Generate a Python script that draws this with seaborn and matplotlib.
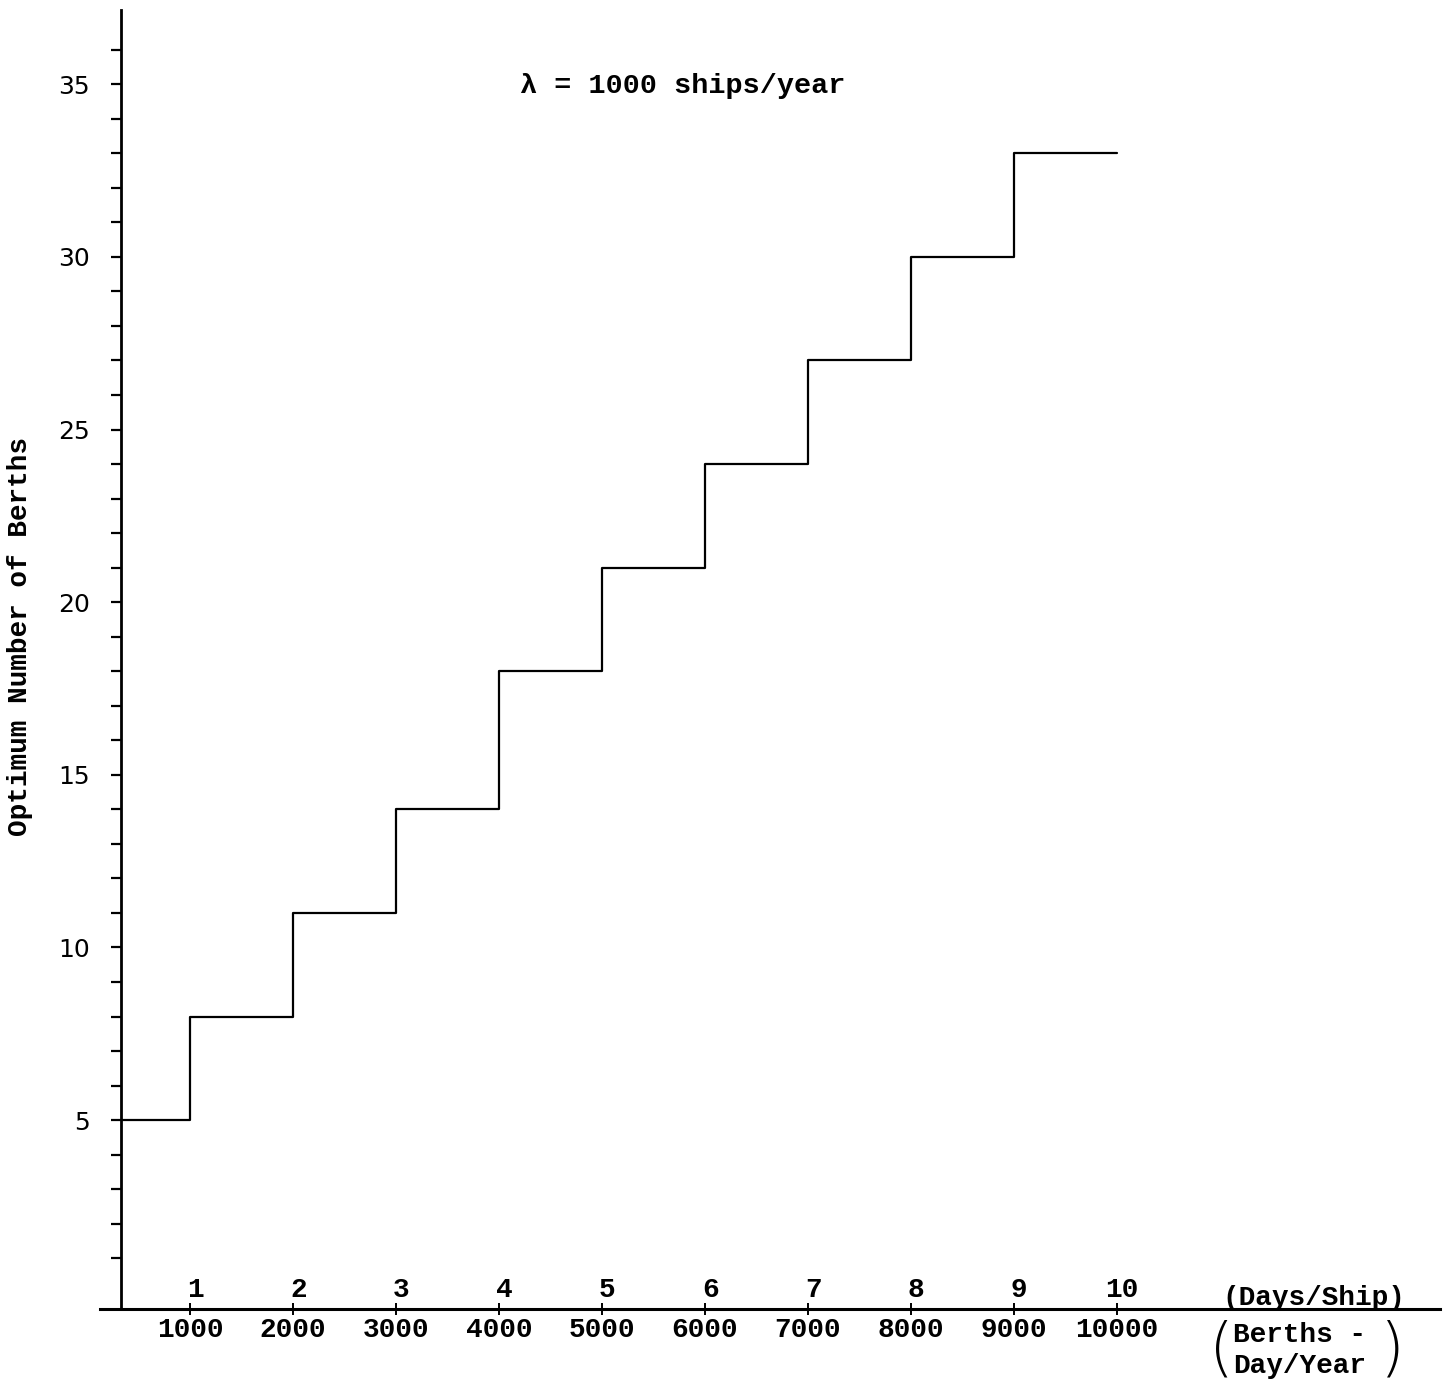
import pandas as pd
import matplotlib.pyplot as plt
import seaborn as sns

# step edges in days/ship (first edge sits on the y axis) and the berths for each step
days_edges = [0.33, 1, 2, 3, 4, 5, 6, 7, 8, 9, 10]
berths = [5, 8, 11, 14, 18, 21, 24, 27, 30, 33, 33]

# tick labels for the two rows under the x axis
day_ticks = [1, 2, 3, 4, 5, 6, 7, 8, 9, 10]
berth_day_labels = ["1000", "2000", "3000", "4000", "5000", "6000", "7000", "8000", "9000", "10000"]

# y ticks every berth, labels every five
y_ticks = list(range(1, 37))
y_labelled = [5, 10, 15, 20, 25, 30, 35]

title_text = "\u03bb = 1000 ships/year"
mono = "Liberation Mono"


def main():
    # plain black ink like the typed original
    sns.set_style("ticks", {"axes.edgecolor": "black", "text.color": "black",
                            "xtick.color": "black", "ytick.color": "black",
                            "axes.labelcolor": "black"})
    plt.rcParams['font.family'] = ['DejaVu Sans']

    fig = plt.figure(figsize=(14.5, 13.89), dpi=100)
    # axes box in figure fractions (x axis line runs from px 100 to 1440)
    ax = fig.add_axes([100 / 1450, 80 / 1389, 1340 / 1450, 1299 / 1389])

    df = pd.DataFrame({"days": days_edges, "berths": berths})
    sns.lineplot(data=df, x="days", y="berths", drawstyle="steps-post",
                 color="black", linewidth=1.6, ax=ax)

    ax.set_xlim(0.126, 13.14)
    ax.set_ylim(-0.47, 37.15)

    # spines: only left and bottom, left one moved to where the steps start
    ax.spines['top'].set_visible(False)
    ax.spines['right'].set_visible(False)
    ax.spines['left'].set_position(('data', days_edges[0]))
    ax.spines['left'].set_linewidth(2)
    ax.spines['bottom'].set_linewidth(2.2)

    # y ticks
    ax.set_yticks(y_ticks)
    ax.set_yticklabels([str(t) if t in y_labelled else "" for t in y_ticks],
                       fontsize=18, family="DejaVu Sans")
    ax.tick_params(axis='y', direction='out', length=7.5, width=1.6, pad=15)

    # x ticks: bottom row are berth-days labels
    ax.set_xticks(day_ticks)
    ax.set_xticklabels(berth_day_labels, fontsize=20, family=mono, weight="bold")
    ax.tick_params(axis='x', direction='inout', length=8, width=1.4, pad=2)

    # top row of days/ship numbers just above the axis line
    for d in day_ticks:
        ax.annotate(str(d), xy=(d, 0), xycoords=('data', 'axes fraction'),
                    xytext=(4, 4), textcoords='offset points',
                    ha='center', va='bottom', fontsize=20, family=mono, weight="bold")

    ax.set_xlabel("")
    ax.set_ylabel("Optimum Number of Berths", fontsize=20, family=mono, weight="bold")
    ax.yaxis.set_label_coords(-0.050, 0.518)

    # title text inside the plot
    fig.text(520 / 1450, 1 - 86 / 1389, title_text, fontsize=20.5, family=mono,
             weight="bold", ha='left', va='center')

    # unit captions at the right end of the x axis
    fig.text(1222 / 1450, 1 - 1298 / 1389, "(Days/Ship)", fontsize=20, family=mono,
             weight="bold", ha='left', va='center')
    fig.text(1233 / 1450, 1 - 1335 / 1389, "Berths -", fontsize=20, family=mono,
             weight="bold", ha='left', va='center')
    fig.text(1233 / 1450, 1 - 1366 / 1389, "Day/Year", fontsize=20, family=mono,
             weight="bold", ha='left', va='center')
    fig.text(1222 / 1450, 1 - 1351 / 1389, "(", fontsize=46, family="DejaVu Sans",
             weight="light", ha='center', va='center')
    fig.text(1392 / 1450, 1 - 1351 / 1389, ")", fontsize=46, family="DejaVu Sans",
             weight="light", ha='center', va='center')

    fig.savefig("out.png", dpi=100)


if __name__ == "__main__":
    main()
